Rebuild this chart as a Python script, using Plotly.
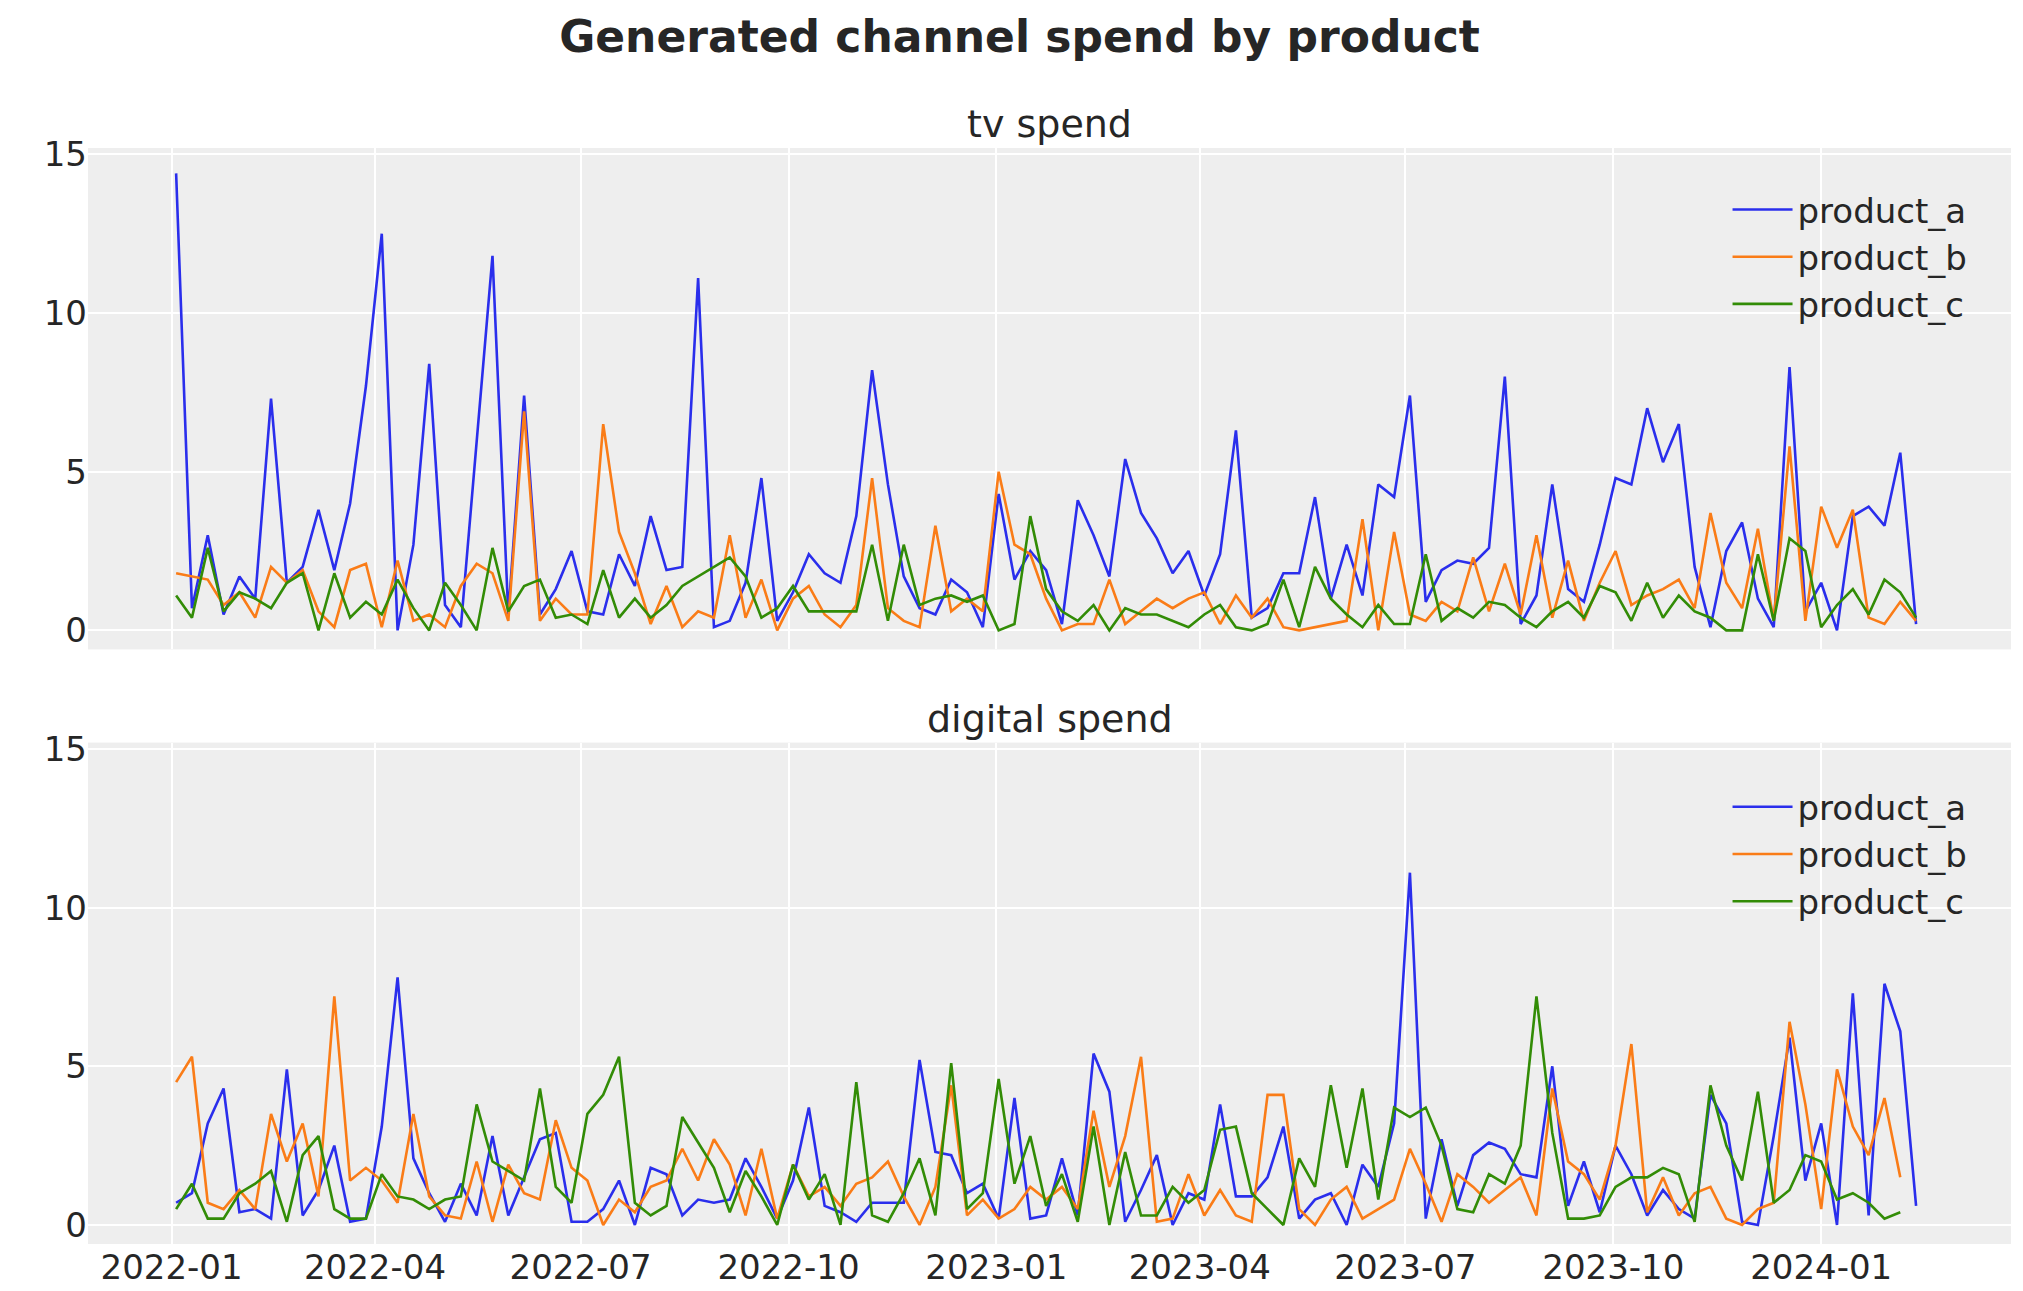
import pandas as pd
import plotly.graph_objects as go
from plotly.subplots import make_subplots

tv_a = [14.4,0.7,3.0,0.5,1.7,1.0,7.3,1.5,2.0,3.8,1.9,4.0,7.7,12.5,0.0,2.7,8.4,0.8,0.1,6.0,11.8,0.5,7.4,0.5,1.3,2.5,0.6,0.5,2.4,1.4,3.6,1.9,2.0,11.1,0.1,0.3,1.5,4.8,0.3,1.2,2.4,1.8,1.5,3.6,8.2,4.6,1.7,0.7,0.5,1.6,1.2,0.1,4.3,1.6,2.5,1.9,0.2,4.1,3.0,1.7,5.4,3.7,2.9,1.8,2.5,1.1,2.4,6.3,0.4,0.7,1.8,1.8,4.2,1.0,2.7,1.1,4.6,4.2,7.4,0.9,1.9,2.2,2.1,2.6,8.0,0.2,1.1,4.6,1.3,0.9,2.7,4.8,4.6,7.0,5.3,6.5,2.0,0.1,2.5,3.4,1.0,0.1,8.3,0.6,1.5,0.0,3.6,3.9,3.3,5.6,0.2]
tv_b = [1.8,1.7,1.6,0.8,1.2,0.4,2.0,1.5,1.9,0.6,0.1,1.9,2.1,0.1,2.2,0.3,0.5,0.1,1.4,2.1,1.8,0.3,6.9,0.3,1.0,0.5,0.5,6.5,3.1,1.8,0.2,1.4,0.1,0.6,0.4,3.0,0.4,1.6,0.0,1.0,1.4,0.5,0.1,0.8,4.8,0.7,0.3,0.1,3.3,0.6,1.0,0.6,5.0,2.7,2.4,1.0,0.0,0.2,0.2,1.6,0.2,0.6,1.0,0.7,1.0,1.2,0.2,1.1,0.4,1.0,0.1,0.0,0.1,0.2,0.3,3.5,0.0,3.1,0.5,0.3,0.9,0.6,2.3,0.6,2.1,0.5,3.0,0.4,2.2,0.3,1.5,2.5,0.8,1.1,1.3,1.6,0.7,3.7,1.5,0.7,3.2,0.3,5.8,0.3,3.9,2.6,3.8,0.4,0.2,0.9,0.3]
tv_c = [1.1,0.4,2.6,0.6,1.2,1.0,0.7,1.5,1.8,0.0,1.8,0.4,0.9,0.5,1.6,0.7,0.0,1.5,0.8,0.0,2.6,0.6,1.4,1.6,0.4,0.5,0.2,1.9,0.4,1.0,0.4,0.8,1.4,1.7,2.0,2.3,1.7,0.4,0.7,1.4,0.6,0.6,0.6,0.6,2.7,0.3,2.7,0.8,1.0,1.1,0.9,1.1,0.0,0.2,3.6,1.3,0.6,0.3,0.8,0.0,0.7,0.5,0.5,0.3,0.1,0.5,0.8,0.1,0.0,0.2,1.6,0.1,2.0,1.0,0.5,0.1,0.8,0.2,0.2,2.4,0.3,0.7,0.4,0.9,0.8,0.4,0.1,0.6,0.9,0.4,1.4,1.2,0.3,1.5,0.4,1.1,0.6,0.4,0.0,0.0,2.4,0.3,2.9,2.5,0.1,0.8,1.3,0.5,1.6,1.2,0.4]
dg_a = [0.7,1.0,3.2,4.3,0.4,0.5,0.2,4.9,0.3,1.1,2.5,0.1,0.2,3.1,7.8,2.1,1.0,0.1,1.3,0.3,2.8,0.3,1.5,2.7,2.9,0.1,0.1,0.5,1.4,0.0,1.8,1.6,0.3,0.8,0.7,0.8,2.1,1.2,0.2,1.4,3.7,0.6,0.4,0.1,0.7,0.7,0.7,5.2,2.3,2.2,1.0,1.3,0.2,4.0,0.2,0.3,2.1,0.3,5.4,4.2,0.1,1.1,2.2,0.0,1.0,0.8,3.8,0.9,0.9,1.5,3.1,0.2,0.8,1.0,0.0,1.9,1.2,3.2,11.1,0.2,2.7,0.6,2.2,2.6,2.4,1.6,1.5,5.0,0.6,2.0,0.4,2.5,1.6,0.3,1.1,0.5,0.2,4.1,3.2,0.1,0.0,2.8,5.9,1.4,3.2,0.0,7.3,0.3,7.6,6.1,0.6]
dg_b = [4.5,5.3,0.7,0.5,1.1,0.5,3.5,2.0,3.2,0.9,7.2,1.4,1.8,1.4,0.7,3.5,0.9,0.3,0.2,2.0,0.1,1.9,1.0,0.8,3.3,1.8,1.4,0.0,0.8,0.4,1.2,1.4,2.4,1.4,2.7,1.9,0.3,2.4,0.2,1.9,0.9,1.2,0.6,1.3,1.5,2.0,0.9,0.0,1.2,4.4,0.3,0.8,0.2,0.5,1.2,0.8,1.2,0.5,3.6,1.2,2.8,5.3,0.1,0.2,1.6,0.3,1.1,0.3,0.1,4.1,4.1,0.5,0.0,0.8,1.2,0.2,0.5,0.8,2.4,1.3,0.1,1.6,1.2,0.7,1.1,1.5,0.3,4.3,2.0,1.6,0.8,2.5,5.7,0.4,1.5,0.3,1.0,1.2,0.2,0.0,0.5,0.7,6.4,3.8,0.5,4.9,3.1,2.2,4.0,1.5]
dg_c = [0.5,1.3,0.2,0.2,1.0,1.3,1.7,0.1,2.2,2.8,0.5,0.2,0.2,1.6,0.9,0.8,0.5,0.8,0.9,3.8,2.0,1.7,1.4,4.3,1.2,0.7,3.5,4.1,5.3,0.7,0.3,0.6,3.4,2.6,1.8,0.4,1.7,0.9,0.0,1.9,0.8,1.6,0.0,4.5,0.3,0.1,1.0,2.1,0.3,5.1,0.5,1.0,4.6,1.3,2.8,0.6,1.6,0.1,3.1,0.0,2.3,0.3,0.3,1.2,0.7,1.1,3.0,3.1,1.0,0.5,0.0,2.1,1.2,4.4,1.8,4.3,0.8,3.7,3.4,3.7,2.5,0.5,0.4,1.6,1.3,2.5,7.2,2.9,0.2,0.2,0.3,1.2,1.5,1.5,1.8,1.6,0.1,4.4,2.5,1.4,4.2,0.7,1.1,2.2,2.0,0.8,1.0,0.7,0.2,0.4]

products = ["product_a", "product_b", "product_c"]
colors = ["#2a2eec", "#fa7c17", "#328c06"]
dates = pd.date_range("2022-01-03", periods=115, freq="W-MON")

fig = make_subplots(rows=2, cols=1, shared_xaxes=True, vertical_spacing=0.085,
                    subplot_titles=("tv spend", "digital spend"))
for row, series in ((1, [tv_a, tv_b, tv_c]), (2, [dg_a, dg_b, dg_c])):
    for name, col, vals in zip(products, colors, series):
        fig.add_trace(go.Scatter(x=dates[:len(vals)], y=vals, mode="lines", name=name,
                                 line=dict(color=col, width=2.6),
                                 legend="legend" if row == 1 else "legend2"), row=row, col=1)

fig.update_layout(
    width=2023, height=1291, paper_bgcolor="white", plot_bgcolor="#eeeeee",
    font=dict(family="DejaVu Sans", size=34, color="#262626"),
    margin=dict(l=80, r=20, t=140, b=55),
    title=dict(text="<b>Generated channel spend by product</b>", x=0.5, xanchor="center",
               y=0.99, yanchor="top", font=dict(size=44)),
    legend=dict(x=0.98, y=0.97, xanchor="right", yanchor="top", bgcolor="rgba(0,0,0,0)",
                font=dict(size=34), itemwidth=60, tracegroupgap=4),
    legend2=dict(x=0.98, y=0.425, xanchor="right", yanchor="top", bgcolor="rgba(0,0,0,0)",
                 font=dict(size=34), itemwidth=60),
)
for a in fig.layout.annotations:
    a.font = dict(size=38, color="#262626")
fig.update_yaxes(range=[-0.6, 15.2], tickvals=[0, 5, 10, 15], gridcolor="white", gridwidth=2,
                 zeroline=False, showline=False, ticks="")
fig.update_xaxes(gridcolor="white", gridwidth=2, dtick="M3", tickformat="%Y-%m", showline=False,
                 range=["2021-11-25", "2024-03-25"])
fig.update_xaxes(showticklabels=False, row=1, col=1)
fig.write_html("out.html")
